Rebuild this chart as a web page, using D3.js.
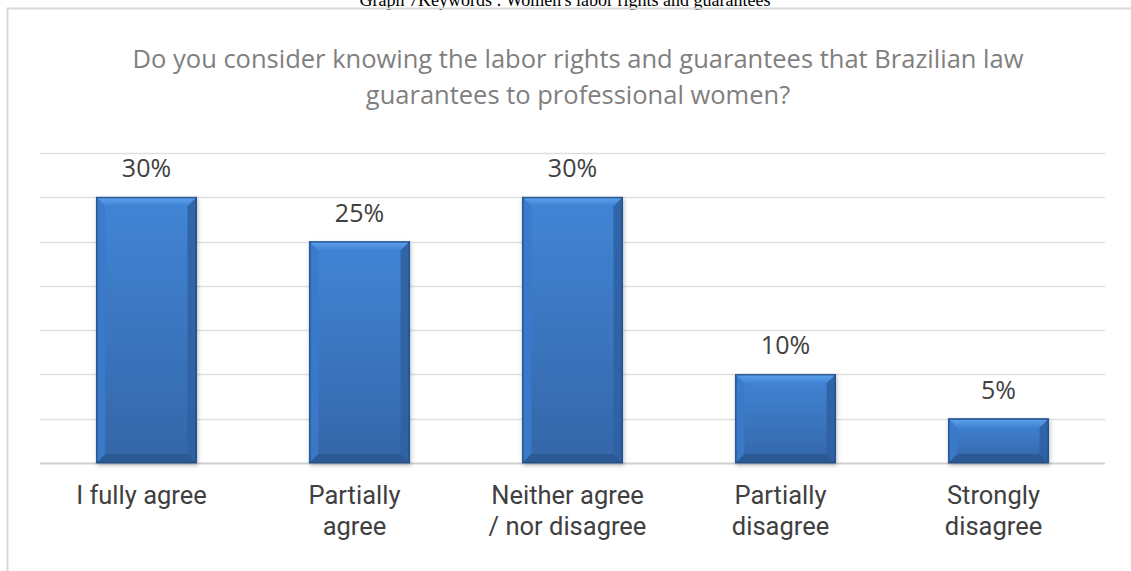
<!DOCTYPE html>
<html><head><meta charset="utf-8">
<script src="https://cdn.jsdelivr.net/npm/d3@7"></script>
<style>body{margin:0;background:#fff}svg{display:block}</style>
</head><body>
<svg id="c" width="1131" height="571"></svg>
<script>
const categories = [["I fully agree"],["Partially","agree"],["Neither agree","/ nor disagree"],["Partially","disagree"],["Strongly","disagree"]];
const values = [30, 25, 30, 10, 5];
const valueLabels = ["30%","25%","30%","10%","5%"];
const gridTicks = [0,5,10,15,20,25,30,35];
const titleLines = ["Do you consider knowing the labor rights and guarantees that Brazilian law","guarantees to professional women?"];
const caption = "Graph 7Keywords : Women's labor rights and guarantees";

(function(){
const svg = d3.select("#c");
const W = 1131, H = 571;
const pL = 40, pR = 1105, pT = 153, pB = 463;

const x = d3.scaleBand().domain(d3.range(values.length)).range([pL, pR]).paddingInner(0.53).paddingOuter(0.265);
const y = d3.scaleLinear().domain([0, 35]).range([pB, pT]);

const defs = svg.append("defs");
const g = defs.append("linearGradient").attr("id","bg").attr("x1",0).attr("y1",0).attr("x2",0).attr("y2",1);
g.append("stop").attr("offset","0").attr("stop-color","#4185d6");
g.append("stop").attr("offset","1").attr("stop-color","#3466a8");
const gt = defs.append("linearGradient").attr("id","tg").attr("x1",0).attr("y1",0).attr("x2",0).attr("y2",1);
gt.append("stop").attr("offset","0").attr("stop-color","#5ea3ee");
gt.append("stop").attr("offset","1").attr("stop-color","#3f82d3");
const sh = defs.append("filter").attr("id","sh").attr("x","-20%").attr("y","-20%").attr("width","140%").attr("height","140%");
sh.append("feDropShadow").attr("dx",1).attr("dy",2).attr("stdDeviation",2).attr("flood-color","#000").attr("flood-opacity",0.25);

svg.append("text").attr("x", 565).attr("y", 6).attr("text-anchor","middle")
  .attr("font-family","Liberation Serif, serif").attr("font-size",18).attr("fill","#000").text(caption);

svg.append("path").attr("d", `M7.5,${H} V8.5 H${W}`).attr("fill","none").attr("stroke","#d9d9d9").attr("stroke-width",2);

svg.append("g").selectAll("text").data(titleLines).join("text")
  .attr("x", 578).attr("y",(d,i)=>68 + i*36).attr("text-anchor","middle")
  .attr("font-family","Open Sans, sans-serif").attr("font-size",25.5).attr("fill","#7f7f7f").text(d=>d);

svg.append("g").selectAll("line").data(gridTicks).join("line")
  .attr("x1", pL).attr("x2", pR).attr("y1", d=>Math.round(y(d))+0.5).attr("y2", d=>Math.round(y(d))+0.5)
  .attr("stroke", d=> d===0 ? "#d0d0d0" : "#e0e0e0").attr("stroke-width", d=> d===0 ? 2 : 1.3);

const bars = svg.append("g").selectAll("g").data(values).join("g");
bars.append("rect").attr("x",(d,i)=>x(i)).attr("y",d=>y(d)).attr("width",x.bandwidth()).attr("height",d=>pB-y(d))
  .attr("fill","url(#bg)").attr("stroke","#2a568f").attr("stroke-width",1).attr("filter","url(#sh)");
const bev = 9;
bars.append("path").attr("d",(d,i)=>{const x0=x(i),x1=x0+x.bandwidth(),y0=y(d);
  return `M${x0},${y0} H${x1} L${x1-bev},${y0+bev} H${x0+bev} Z`;}).attr("fill","url(#tg)");
bars.append("path").attr("d",(d,i)=>{const x0=x(i),y0=y(d);
  return `M${x0},${y0} L${x0+bev},${y0+bev} V${pB-bev} L${x0},${pB} Z`;}).attr("fill","#3b7acb").attr("opacity",0.9);
bars.append("path").attr("d",(d,i)=>{const x1=x(i)+x.bandwidth(),y0=y(d);
  return `M${x1},${y0} L${x1-bev},${y0+bev} V${pB-bev} L${x1},${pB} Z`;}).attr("fill","#2f62a3").attr("opacity",0.9);
bars.append("path").attr("d",(d,i)=>{const x0=x(i),x1=x0+x.bandwidth();
  return `M${x0},${pB} L${x0+bev},${pB-bev} H${x1-bev} L${x1},${pB} Z`;}).attr("fill","#2b5994");
bars.append("rect").attr("x",(d,i)=>x(i)+0.5).attr("y",d=>y(d)+0.5).attr("width",x.bandwidth()-1).attr("height",d=>pB-y(d)-1)
  .attr("fill","none").attr("stroke","#234b80").attr("stroke-width",1);

svg.append("g").selectAll("text").data(values).join("text")
  .attr("x",(d,i)=>x(i)+x.bandwidth()/2).attr("y",d=>y(d)-20).attr("text-anchor","middle")
  .attr("font-family","Open Sans, sans-serif").attr("font-size",25).attr("fill","#404040").text((d,i)=>valueLabels[i]);

const cl = svg.append("g").selectAll("text").data(categories).join("text")
  .attr("text-anchor","middle").attr("font-family","Roboto, sans-serif").attr("font-size",25.5).attr("fill","#404040");
cl.selectAll("tspan").data((d,i)=>d.map(t=>({t,i}))).join("tspan")
  .attr("x",d=>x(d.i)+x.bandwidth()/2 - 5).attr("y",(d,j)=>504+j*31).text(d=>d.t);
})();
</script>
</body></html>
